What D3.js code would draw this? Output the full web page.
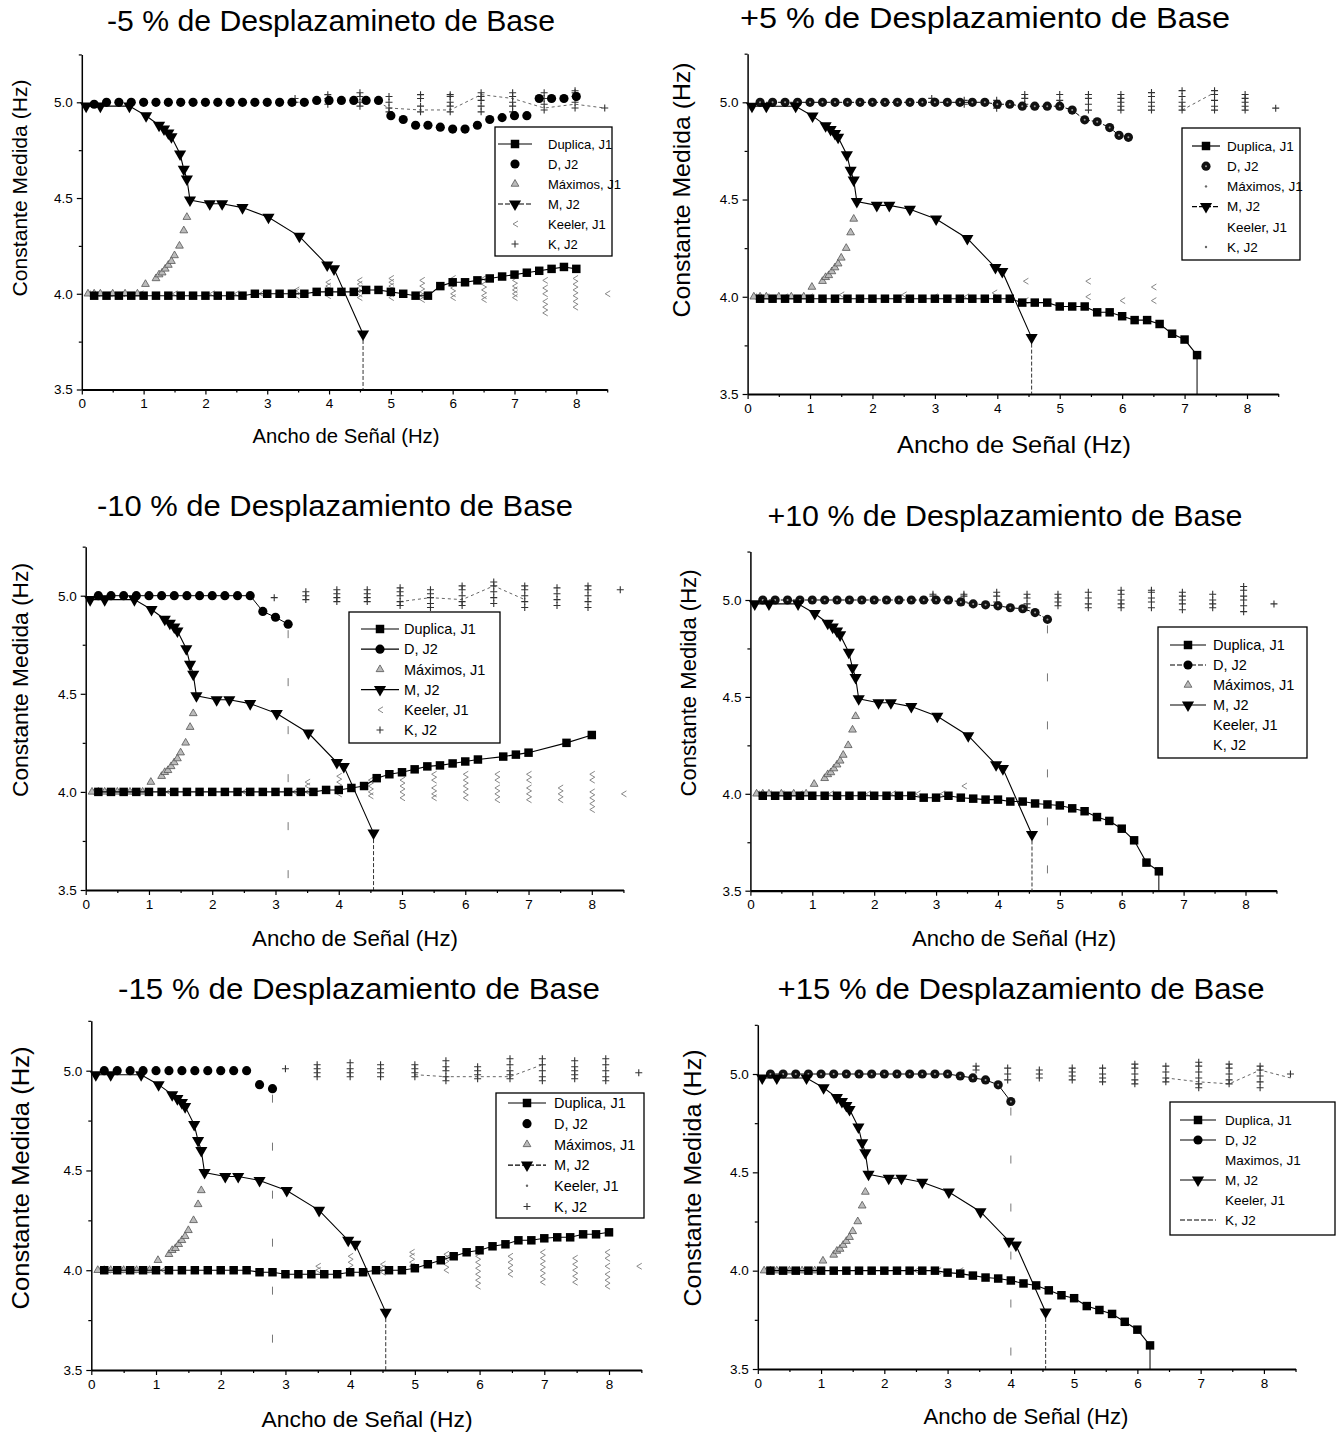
<!DOCTYPE html>
<html><head><meta charset="utf-8">
<script src="https://cdn.jsdelivr.net/npm/d3@7/dist/d3.min.js"></script>
<style>
body{margin:0;background:#fff}
svg{display:block}
text{font-family:"Liberation Sans",Arial,Helvetica,sans-serif;fill:#000}
</style></head><body>
<svg id="chart" width="1341" height="1433"></svg>
<script>
// ---------------- DATA ----------------
const titles = ["-5 % de Desplazamineto de Base","+5 % de Desplazamiento de Base",
  "-10 % de Desplazamiento de Base","+10 % de Desplazamiento de Base",
  "-15 % de Desplazamiento de Base","+15 % de Desplazamiento de Base"];
const xLabel = "Ancho de Señal (Hz)";
const yLabel = "Constante Medida (Hz)";
const xTicks = [0,1,2,3,4,5,6,7,8];
const xMinor = [0.5,1.5,2.5,3.5,4.5,5.5,6.5,7.5,8.5];
const yTicks = [3.5,4.0,4.5,5.0];
const yMinor = [3.75,4.25,4.75,5.25];
const legendLabels = ["Duplica, J1","D, J2","Máximos, J1","M, J2","Keeler, J1","K, J2"];
const legendLabels6 = ["Duplica, J1","D, J2","Maximos, J1","M, J2","Keeler, J1","K, J2"];

// M, J2 (same in every panel)
const mX = [0.07,0.3,0.77,1.04,1.25,1.33,1.4,1.45,1.59,1.65,1.7,1.75,2.07,2.27,2.6,3.02,3.52,3.97,4.08,4.55];
const mY = [4.98,4.98,4.98,4.93,4.88,4.86,4.84,4.82,4.73,4.65,4.6,4.49,4.47,4.47,4.45,4.40,4.30,4.15,4.13,3.79];
// Máximos, J1 (same in every panel)
const maxX = [0.1,0.2,0.3,0.5,0.7,0.9,1.03,1.2,1.25,1.3,1.35,1.4,1.45,1.5,1.58,1.65,1.7];
const maxY = [4.0,4.0,4.0,4.0,4.0,4.0,4.05,4.08,4.1,4.11,4.13,4.15,4.17,4.2,4.25,4.33,4.4];

// Duplica, J1 per panel
const dup1X = [0.2,0.4,0.6,0.8,1.0,1.2,1.4,1.6,1.8,2.0,2.2,2.4,2.6,2.8,3.0,3.2,3.4,3.6,3.8,4.0,4.2,4.4,4.6,4.8,5.0,5.2,5.4,5.6,5.8,6.0,6.2,6.4,6.6,6.8,7.0,7.2,7.4,7.6,7.8,8.0];
const dup1Y = [3.99,3.99,3.99,3.99,3.99,3.99,3.99,3.99,3.99,3.99,3.99,3.99,3.99,4.0,4.0,4.0,4.0,4.0,4.01,4.01,4.01,4.01,4.02,4.02,4.01,4.0,3.99,3.99,4.04,4.06,4.06,4.07,4.08,4.09,4.1,4.11,4.12,4.13,4.14,4.13];
const dup2X = [0.2,0.4,0.6,0.8,1.0,1.2,1.4,1.6,1.8,2.0,2.2,2.4,2.6,2.8,3.0,3.2,3.4,3.6,3.8,4.0,4.2,4.4,4.6,4.8,5.0,5.2,5.4,5.6,5.8,6.0,6.2,6.4,6.6,6.8,7.0,7.2];
const dup2Y = [3.99,3.99,3.99,3.99,3.99,3.99,3.99,3.99,3.99,3.99,3.99,3.99,3.99,3.99,3.99,3.99,3.99,3.99,3.99,3.99,3.99,3.97,3.97,3.97,3.95,3.95,3.95,3.92,3.92,3.90,3.88,3.88,3.86,3.81,3.78,3.70];
const dup3X = [0.2,0.4,0.6,0.8,1.0,1.2,1.4,1.6,1.8,2.0,2.2,2.4,2.6,2.8,3.0,3.2,3.4,3.6,3.8,4.0,4.2,4.4,4.6,4.8,5.0,5.2,5.4,5.6,5.8,6.0,6.2,6.6,6.8,7.0,7.6,8.0];
const dup3Y = [4.0,4.0,4.0,4.0,4.0,4.0,4.0,4.0,4.0,4.0,4.0,4.0,4.0,4.0,4.0,4.0,4.0,4.0,4.01,4.01,4.02,4.03,4.07,4.09,4.1,4.115,4.13,4.135,4.145,4.155,4.165,4.18,4.19,4.2,4.25,4.29];
const dup4X = [0.2,0.4,0.6,0.8,1.0,1.2,1.4,1.6,1.8,2.0,2.2,2.4,2.6,2.8,3.0,3.2,3.4,3.6,3.8,4.0,4.2,4.4,4.6,4.8,5.0,5.2,5.4,5.6,5.8,6.0,6.2,6.4,6.6];
const dup4Y = [3.99,3.99,3.99,3.99,3.99,3.99,3.99,3.99,3.99,3.99,3.99,3.99,3.99,3.98,3.98,3.99,3.98,3.975,3.97,3.97,3.96,3.96,3.95,3.945,3.94,3.925,3.91,3.88,3.86,3.82,3.76,3.645,3.60];
const dup5X = [0.2,0.4,0.6,0.8,1.0,1.2,1.4,1.6,1.8,2.0,2.2,2.4,2.6,2.8,3.0,3.2,3.4,3.6,3.8,4.0,4.2,4.4,4.6,4.8,5.0,5.2,5.4,5.6,5.8,6.0,6.2,6.4,6.6,6.8,7.0,7.2,7.4,7.6,7.8,8.0];
const dup5Y = [4.0,4.0,4.0,4.0,4.0,4.0,4.0,4.0,4.0,4.0,4.0,4.0,3.99,3.99,3.98,3.98,3.98,3.98,3.98,3.99,3.99,4.0,4.0,4.0,4.01,4.03,4.05,4.07,4.09,4.1,4.12,4.13,4.15,4.15,4.16,4.165,4.165,4.18,4.18,4.19];
const dup6X = [0.2,0.4,0.6,0.8,1.0,1.2,1.4,1.6,1.8,2.0,2.2,2.4,2.6,2.8,3.0,3.2,3.4,3.6,3.8,4.0,4.2,4.4,4.6,4.8,5.0,5.2,5.4,5.6,5.8,6.0,6.2];
const dup6Y = [4.0,4.0,4.0,4.0,4.0,4.0,4.0,4.0,4.0,4.0,4.0,4.0,4.0,4.0,3.99,3.985,3.975,3.965,3.96,3.95,3.935,3.925,3.90,3.875,3.86,3.82,3.80,3.78,3.74,3.70,3.62];

// D, J2 per panel
const d1X = [0.2,0.4,0.6,0.8,1.0,1.2,1.4,1.6,1.8,2.0,2.2,2.4,2.6,2.8,3.0,3.2,3.4,3.6,3.8,4.0,4.2,4.4,4.6,4.8,5.0,5.2,5.4,5.6,5.8,6.0,6.2,6.4,6.6,6.8,7.0,7.2,7.4,7.6,7.8,8.0];
const d1Y = [4.99,5.0,5.0,5.0,5.0,5.0,5.0,5.0,5.0,5.0,5.0,5.0,5.0,5.0,5.0,5.0,5.0,5.0,5.01,5.01,5.01,5.01,5.01,5.01,4.93,4.91,4.88,4.88,4.87,4.86,4.86,4.88,4.91,4.92,4.93,4.93,5.02,5.02,5.02,5.03];
const d2X = [0.2,0.4,0.6,0.8,1.0,1.2,1.4,1.6,1.8,2.0,2.2,2.4,2.6,2.8,3.0,3.2,3.4,3.6,3.8,4.0,4.2,4.4,4.6,4.8,5.0,5.2,5.4,5.6,5.8,5.95,6.1];
const d2Y = [5.0,5.0,5.0,5.0,5.0,5.0,5.0,5.0,5.0,5.0,5.0,5.0,5.0,5.0,5.0,5.0,5.0,5.0,5.0,4.99,4.99,4.98,4.98,4.98,4.98,4.96,4.91,4.90,4.87,4.83,4.82];
const d3X = [0.2,0.4,0.6,0.8,1.0,1.2,1.4,1.6,1.8,2.0,2.2,2.4,2.6,2.8,3.0,3.2];
const d3Y = [5.0,5.0,5.0,5.0,5.0,5.0,5.0,5.0,5.0,5.0,5.0,5.0,5.0,4.92,4.89,4.855];
const d4X = [0.2,0.4,0.6,0.8,1.0,1.2,1.4,1.6,1.8,2.0,2.2,2.4,2.6,2.8,3.0,3.2,3.4,3.6,3.8,4.0,4.2,4.4,4.6,4.8];
const d4Y = [5.0,5.0,5.0,5.0,5.0,5.0,5.0,5.0,5.0,5.0,5.0,5.0,5.0,5.0,5.0,5.0,4.99,4.98,4.975,4.97,4.96,4.955,4.935,4.90];
const d5X = [0.2,0.4,0.6,0.8,1.0,1.2,1.4,1.6,1.8,2.0,2.2,2.4,2.6,2.8];
const d5Y = [5.0,5.0,5.0,5.0,5.0,5.0,5.0,5.0,5.0,5.0,5.0,5.0,4.93,4.91];
const d6X = [0.2,0.4,0.6,0.8,1.0,1.2,1.4,1.6,1.8,2.0,2.2,2.4,2.6,2.8,3.0,3.2,3.4,3.6,3.8,4.0];
const d6Y = [5.0,5.0,5.0,5.0,5.0,5.0,5.0,5.0,5.0,5.0,5.0,5.0,5.0,5.0,5.0,4.99,4.98,4.97,4.945,4.86];

// K, J2 columns [x, [y...]] per panel
const k1 = [[3.45,[5.0,5.02]],[3.98,[4.99,5.02,5.04]],[4.5,[4.98,5.0,5.03,5.05]],[4.97,[4.95,4.97,5.0,5.03]],[5.48,[4.95,4.98,5.02,5.04]],[5.96,[4.95,4.98,5.0,5.03,5.04]],[6.46,[4.95,4.98,5.01,5.03,5.05]],[6.97,[4.95,4.98,5.0,5.03,5.05]],[7.48,[4.96,4.99,5.02,5.05]],[7.98,[4.97,5.0,5.03,5.05,5.06]],[8.46,[4.97]]];
const k2 = [[2.95,[5.02]],[3.47,[4.99,5.01]],[3.99,[4.97,4.99,5.01]],[4.44,[4.99,5.02,5.04]],[5.0,[4.99,5.01,5.04]],[5.46,[4.96,4.99,5.02,5.04]],[5.98,[4.96,4.98,5.0,5.02,5.04]],[6.47,[4.96,4.98,5.0,5.03,5.05]],[6.96,[4.96,4.98,5.0,5.03,5.06]],[7.48,[4.96,4.98,5.01,5.04,5.06]],[7.97,[4.96,4.98,5.0,5.02,5.04]],[8.46,[4.97]]];
const k3 = [[2.98,[4.99]],[3.48,[4.98,5.0,5.02]],[3.97,[4.97,4.99,5.01,5.03]],[4.45,[4.97,4.99,5.01,5.03]],[4.97,[4.95,4.97,5.0,5.02,5.04]],[5.45,[4.94,4.96,4.99,5.01,5.03]],[5.95,[4.95,4.97,5.0,5.03,5.05]],[6.45,[4.96,4.99,5.02,5.05,5.07]],[6.94,[4.94,4.97,5.0,5.03,5.05]],[7.45,[4.95,4.98,5.01,5.04]],[7.94,[4.94,4.97,5.0,5.03,5.05]],[8.45,[5.03]]];
const k4 = [[2.95,[5.02,5.03]],[3.45,[4.99,5.02,5.03]],[3.98,[4.97,4.99,5.02,5.04]],[4.47,[4.96,4.98,5.01,5.03]],[4.97,[4.97,4.99,5.01,5.03]],[5.46,[4.96,4.98,5.01,5.04]],[5.99,[4.96,4.98,5.0,5.03,5.05]],[6.48,[4.96,4.99,5.01,5.04,5.05]],[6.98,[4.95,4.98,5.0,5.02,5.04]],[7.47,[4.96,4.98,5.0,5.03]],[7.97,[4.94,4.97,5.0,5.02,5.05,5.07]],[8.46,[4.98]]];
const k5 = [[3.0,[5.01]],[3.49,[4.97,4.99,5.01,5.03]],[4.0,[4.97,4.99,5.01,5.04]],[4.47,[4.97,4.99,5.01,5.03]],[5.0,[4.97,4.99,5.01,5.03]],[5.48,[4.95,4.97,5.0,5.02,5.05]],[5.97,[4.96,4.98,5.0,5.02]],[6.47,[4.96,4.98,5.0,5.03,5.06]],[6.97,[4.95,4.97,5.0,5.03,5.06]],[7.47,[4.96,4.98,5.0,5.02,5.05]],[7.95,[4.95,4.97,5.0,5.03,5.06]],[8.46,[4.99]]];
const k6 = [[3.45,[5.02,5.04]],[3.95,[4.97,5.0,5.03]],[4.45,[4.98,5.0,5.02]],[4.97,[4.97,4.99,5.01,5.03]],[5.45,[4.96,4.98,5.0,5.03]],[5.96,[4.95,4.97,5.0,5.03,5.05]],[6.45,[4.96,4.98,5.01,5.04]],[6.97,[4.93,4.95,4.98,5.01,5.04,5.06]],[7.45,[4.95,4.97,5.0,5.03,5.05]],[7.94,[4.93,4.96,4.99,5.02,5.04]],[8.42,[5.0]]];
// K, J2 dashed connecting line per panel
const kLine1X = [4.8,4.97,5.48,5.96,6.46,6.97,7.48,7.98,8.46];
const kLine1Y = [5.0,4.97,4.96,4.96,5.04,5.02,4.97,4.99,4.97];
const kLine2X = [6.96,7.48];
const kLine2Y = [4.96,5.05];
const kLine3X = [4.97,5.45,5.95,6.45,6.94];
const kLine3Y = [4.97,4.99,4.98,5.05,4.98];
const kLine4X = [];
const kLine4Y = [];
const kLine5X = [5.0,5.48,6.47,6.97];
const kLine5Y = [4.98,4.97,4.97,5.03];
const kLine6X = [6.45,6.97,7.45,7.94,8.42];
const kLine6Y = [4.98,4.96,4.95,5.02,4.98];

// Keeler, J1 columns [x, [y...]] per panel
const kee1 = [[0.1,[4.0]],[0.25,[4.0]],[0.45,[4.0]],[0.65,[4.0]],[0.95,[4.0]],[1.5,[4.0]],[2.1,[4.0]],[2.5,[4.0]],[2.9,[4.0]],[3.2,[4.0]],[3.47,[3.99,4.01,4.02]],[3.98,[3.99,4.02,4.04,4.06]],[4.49,[3.98,4.0,4.03,4.05,4.07]],[5.0,[3.98,4.0,4.02,4.04,4.06,4.08]],[5.5,[3.97,3.99,4.01,4.04,4.07]],[6.0,[3.98,4.0,4.03,4.06,4.08]],[6.5,[3.97,3.99,4.02,4.05,4.08]],[7.0,[3.98,4.0,4.02,4.04,4.07]],[7.49,[3.9,3.93,3.96,4.0,4.03,4.07]],[7.98,[3.93,3.96,3.99,4.02,4.05,4.08]],[8.5,[4.0]]];
const kee2 = [[0.1,[4.0]],[0.3,[4.0]],[0.6,[4.0]],[1.0,[4.0]],[1.5,[4.01]],[2.5,[4.01]],[3.0,[4.0]],[3.5,[4.0]],[3.95,[3.99,4.02]],[4.45,[3.98,4.08]],[5.45,[4.0,4.08]],[6.0,[3.98]],[6.5,[3.98,4.05]]];
const kee3 = [[0.1,[4.0]],[0.3,[4.0]],[0.5,[4.0]],[0.7,[4.0]],[1.0,[4.0]],[1.3,[4.0]],[2.0,[4.0]],[2.5,[4.0]],[3.0,[4.0]],[3.3,[4.0]],[3.5,[4.0,4.03,4.05]],[4.0,[3.99,4.02,4.05,4.08]],[4.5,[3.98,4.0,4.03,4.06]],[5.0,[3.97,4.0,4.03,4.06]],[5.5,[3.97,3.99,4.02,4.06,4.09]],[6.0,[3.97,4.0,4.03,4.06,4.09]],[6.5,[3.96,3.99,4.02,4.06,4.09]],[7.0,[3.96,3.99,4.02,4.06,4.09]],[7.5,[3.96,3.99,4.02]],[8.0,[3.91,3.94,3.97,4.0,4.06,4.09]],[8.5,[3.99]]];
const kee4 = [[0.1,[4.0]],[0.3,[4.0]],[0.5,[4.0]],[0.8,[4.0]],[1.3,[4.0]],[1.9,[4.0]],[2.3,[4.0]],[2.7,[4.0]],[3.1,[4.0]],[3.45,[4.04]]];
const kee5 = [[0.1,[4.0]],[0.25,[4.0]],[0.45,[4.0]],[0.65,[4.0]],[0.85,[4.0]],[1.1,[4.0]],[3.0,[3.98]],[3.5,[4.0,4.02]],[4.0,[3.99,4.01,4.04,4.07]],[4.5,[3.99,4.01,4.03]],[4.95,[4.02,4.04,4.07,4.09]],[5.48,[4.0,4.03,4.06,4.08]],[5.97,[3.92,3.95,3.98,4.01,4.04,4.07]],[6.47,[3.98,4.01,4.04,4.07]],[6.97,[3.94,3.97,4.0,4.03,4.06,4.09]],[7.47,[3.94,3.97,4.0,4.03,4.06]],[7.97,[3.92,3.95,3.98,4.02,4.06,4.09]],[8.46,[4.02]]];
const kee6 = [[0.1,[4.0]],[0.3,[4.0]],[0.5,[4.0]],[0.7,[4.0]],[0.95,[4.0]],[1.4,[4.0]],[2.0,[4.0]],[2.5,[4.0]],[2.85,[4.0]],[3.2,[4.0]]];

// ---------------- LAYOUT / STYLE ----------------
const layout = [
 {x0:81.8,x8:576.3,y50:102.3,y35:389.5, title:[331,31,448,29], xl:[346,443,187,20], yl:[20,188,217,20],
  leg:{x:495,y:127,w:117,h:129,sx:515,hl:17,tx:548,r0:144,dr:20,fs:13},
  dLine:null, dupDrop:false, dDrop:false,
  legSty:[["solid","sq"],[null,"ci"],[null,"ut"],["dash","dt"],[null,"lt"],[null,"pl"]]},
 {x0:747.6,x8:1247,y50:102.3,y35:394, title:[985,28,490,29], xl:[1014,453,234,24], yl:[681,190,255,24],
  leg:{x:1182,y:128,w:118,h:132,sx:1206,hl:14,tx:1227,r0:146,dr:20.2,fs:13.5},
  dLine:"dash", dupDrop:true, dDrop:false, dDot:true,
  legSty:[["solid","sq"],[null,"cid"],[null,"dot"],["dash","dt"],[null,null],[null,"dot"]]},
 {x0:85.7,x8:591.8,y50:595.7,y35:890, title:[335,516,476,29], xl:[355,946,206,22], yl:[20,680,234,22],
  leg:{x:349,y:612,w:151,h:131,sx:380,hl:19,tx:404,r0:629,dr:20.2,fs:14.5},
  dLine:"solid", dupDrop:false, dDrop:true,
  legSty:[["solid","sq"],["solid","ci"],[null,"ut"],["solid","dt"],[null,"lt"],[null,"pl"]]},
 {x0:750.4,x8:1245.5,y50:600,y35:890.7, title:[1005,526,475,29], xl:[1014,946,204,22], yl:[688,683,227,22],
  leg:{x:1158,y:627,w:149,h:131,sx:1188,hl:18,tx:1213,r0:645,dr:20,fs:14.5},
  dLine:"dash", dupDrop:true, dDrop:true, dDot:true,
  legSty:[["solid","sq"],["dash","ci"],[null,"ut"],["solid","dt"],[null,null],[null,null]]},
 {x0:91.3,x8:609,y50:1070.7,y35:1370, title:[359,999,482,29], xl:[367,1427,211,22], yl:[21,1178,263,23],
  leg:{x:496,y:1093,w:148,h:125,sx:527,hl:19,tx:554,r0:1103,dr:20.7,fs:14.5},
  dLine:null, dupDrop:false, dDrop:true,
  legSty:[["solid","sq"],[null,"ci"],[null,"ut"],["dash","dt"],[null,"dot"],[null,"pl"]]},
 {x0:757.8,x8:1263.9,y50:1074,y35:1369, title:[1021,999,487,29], xl:[1026,1424,205,22], yl:[693,1178,257,23],
  leg:{x:1170,y:1102,w:165,h:133,sx:1198,hl:18,tx:1225,r0:1120,dr:20,fs:13.5},
  dLine:"solid", dupDrop:true, dDrop:true, dDot:true,
  legSty:[["solid","sq"],["solid","ci"],[null,null],["solid","dt"],[null,null],["dash",null]]}
];

const panelData = [
 {dupX:dup1X,dupY:dup1Y,dX:d1X,dY:d1Y,k:k1,kLX:kLine1X,kLY:kLine1Y,kee:kee1,labels:legendLabels},
 {dupX:dup2X,dupY:dup2Y,dX:d2X,dY:d2Y,k:k2,kLX:kLine2X,kLY:kLine2Y,kee:kee2,labels:legendLabels},
 {dupX:dup3X,dupY:dup3Y,dX:d3X,dY:d3Y,k:k3,kLX:kLine3X,kLY:kLine3Y,kee:kee3,labels:legendLabels},
 {dupX:dup4X,dupY:dup4Y,dX:d4X,dY:d4Y,k:k4,kLX:kLine4X,kLY:kLine4Y,kee:kee4,labels:legendLabels},
 {dupX:dup5X,dupY:dup5Y,dX:d5X,dY:d5Y,k:k5,kLX:kLine5X,kLY:kLine5Y,kee:kee5,labels:legendLabels},
 {dupX:dup6X,dupY:dup6Y,dX:d6X,dY:d6Y,k:k6,kLX:kLine6X,kLY:kLine6Y,kee:kee6,labels:legendLabels6}
];

// ---------------- DRAW ----------------
const svg = d3.select("#chart");
const zip = (xs, ys) => xs.map((v,i)=>({x:v,y:ys[i]}));
const sym = {
  sq: d3.symbol().type(d3.symbolSquare).size(72)(),
  ci: d3.symbol().type(d3.symbolCircle).size(66)(),
  dt: d3.symbol().type(d3.symbolTriangle).size(64)(),
  ut: d3.symbol().type(d3.symbolTriangle).size(26)()
};

function drawMarker(g, type, cx, cy){
  if(!type) return;
  if(type==="sq") g.append("path").attr("d",sym.sq).attr("transform",`translate(${cx},${cy})`).attr("fill","#000");
  else if(type==="ci") g.append("path").attr("d",sym.ci).attr("transform",`translate(${cx},${cy})`).attr("fill","#000");
  else if(type==="cid"){ g.append("path").attr("d",sym.ci).attr("transform",`translate(${cx},${cy})`).attr("fill","#111");
    g.append("circle").attr("cx",cx).attr("cy",cy).attr("r",1.0).attr("fill","#999"); }
  else if(type==="dt") g.append("path").attr("d",sym.dt).attr("transform",`translate(${cx},${cy}) rotate(180)`).attr("fill","#000");
  else if(type==="ut") g.append("path").attr("d",sym.ut).attr("transform",`translate(${cx},${cy})`).attr("fill","#bbb").attr("stroke","#555").attr("stroke-width",0.8);
  else if(type==="lt") g.append("path").attr("d",`M${cx+3},${cy-3}L${cx-2},${cy}L${cx+3},${cy+3}`).attr("fill","none").attr("stroke","#888").attr("stroke-width",1);
  else if(type==="pl") g.append("path").attr("d",`M${cx-3.5},${cy}H${cx+3.5}M${cx},${cy-3.5}V${cy+3.5}`).attr("stroke","#333").attr("stroke-width",1.1);
  else if(type==="dot") g.append("circle").attr("cx",cx).attr("cy",cy).attr("r",1.2).attr("fill","#666");
}

layout.forEach((L, i) => {
  const D = panelData[i];
  const unit = (L.x8 - L.x0)/8;
  const yUnit = (L.y35 - L.y50)/1.5;
  const x = d3.scaleLinear().domain([0,8.5]).range([L.x0, L.x0 + 8.5*unit]);
  const y = d3.scaleLinear().domain([3.5,5.25]).range([L.y35, L.y50 - 0.25*yUnit]);
  const g = svg.append("g");

  // title and axis labels
  g.append("text").attr("x",L.title[0]).attr("y",L.title[1]).attr("text-anchor","middle")
    .attr("font-size",L.title[3]).attr("textLength",L.title[2]).attr("lengthAdjust","spacingAndGlyphs").text(titles[i]);
  g.append("text").attr("x",L.xl[0]).attr("y",L.xl[1]).attr("text-anchor","middle")
    .attr("font-size",L.xl[3]).attr("textLength",L.xl[2]).attr("lengthAdjust","spacingAndGlyphs").text(xLabel);
  g.append("text").attr("transform",`translate(${L.yl[0]+L.yl[3]*0.36},${L.yl[1]}) rotate(-90)`).attr("text-anchor","middle")
    .attr("font-size",L.yl[3]).attr("textLength",L.yl[2]).attr("lengthAdjust","spacingAndGlyphs").text(yLabel);

  // axes
  const xa = g.append("g").attr("transform",`translate(0,${L.y35})`)
    .call(d3.axisBottom(x).tickValues(xTicks).tickSize(5).tickSizeOuter(0).tickPadding(4).tickFormat(d3.format("d")));
  const xm = g.append("g").attr("transform",`translate(0,${L.y35})`)
    .call(d3.axisBottom(x).tickValues(xMinor).tickSize(3).tickSizeOuter(0).tickFormat(""));
  xm.select(".domain").remove();
  xa.select(".domain").attr("stroke-width",2.2);
  const ya = g.append("g").attr("transform",`translate(${L.x0},0)`)
    .call(d3.axisLeft(y).tickValues(yTicks).tickSize(5).tickSizeOuter(0).tickPadding(4).tickFormat(d3.format(".1f")));
  const ym = g.append("g").attr("transform",`translate(${L.x0},0)`)
    .call(d3.axisLeft(y).tickValues(yMinor).tickSize(3).tickSizeOuter(0).tickFormat(""));
  ym.select(".domain").remove();
  ya.select(".domain").attr("stroke-width",1.5);
  [xa,ya].forEach(a => a.selectAll("text").attr("font-size",13.5).attr("font-family","'Liberation Sans',Arial,sans-serif"));
  g.selectAll(".tick line").attr("stroke-width",1.2);

  const line = d3.line().x(d=>x(d.x)).y(d=>y(d.y));

  // Keeler, J1
  D.kee.forEach(c => c[1].forEach(v => drawMarker(g,"lt",x(c[0]),y(v))));
  // K, J2
  if(D.kLX.length) g.append("path").attr("d",line(zip(D.kLX,D.kLY))).attr("fill","none")
     .attr("stroke","#555").attr("stroke-width",0.9).attr("stroke-dasharray","3,3");
  D.k.forEach(c => c[1].forEach(v => drawMarker(g,"pl",x(c[0]),y(v))));

  // Máximos, J1
  const maxPts = zip(maxX,maxY);
  maxPts.forEach(p => drawMarker(g,"ut",x(p.x),y(p.y)));

  // Duplica, J1
  const dupPts = zip(D.dupX,D.dupY);
  g.append("path").attr("d",line(dupPts)).attr("fill","none").attr("stroke","#000").attr("stroke-width",1.1);
  if(L.dupDrop){ const last = dupPts[dupPts.length-1];
    g.append("line").attr("x1",x(last.x)).attr("x2",x(last.x)).attr("y1",y(last.y)).attr("y2",y(3.5)).attr("stroke","#000").attr("stroke-width",1); }
  g.selectAll(null).data(dupPts).join("path").attr("d",sym.sq)
    .attr("transform",d=>`translate(${x(d.x)},${y(d.y)})`).attr("fill","#000");

  // D, J2
  const dPts = zip(D.dX,D.dY);
  if(L.dLine) g.append("path").attr("d",line(dPts)).attr("fill","none").attr("stroke","#000").attr("stroke-width",1)
     .attr("stroke-dasharray",L.dLine==="dash"?"4,2":null);
  if(L.dDrop){ const last = dPts[dPts.length-1];
    g.append("line").attr("x1",x(last.x)).attr("x2",x(last.x)).attr("y1",y(last.y)+6).attr("y2",y(3.5)).attr("stroke","#777").attr("stroke-width",1).attr("stroke-dasharray","8,40"); }
  dPts.forEach(p => drawMarker(g, L.dDot ? "cid" : "ci", x(p.x), y(p.y)));

  // M, J2
  const mPts = zip(mX,mY);
  g.append("path").attr("d",line(mPts)).attr("fill","none").attr("stroke","#000").attr("stroke-width",1.1);
  const mLast = mPts[mPts.length-1];
  g.append("line").attr("x1",x(mLast.x)).attr("x2",x(mLast.x)).attr("y1",y(mLast.y)).attr("y2",y(3.5))
    .attr("stroke","#333").attr("stroke-width",1).attr("stroke-dasharray","4,2");
  g.selectAll(null).data(mPts).join("path").attr("d",sym.dt)
    .attr("transform",d=>`translate(${x(d.x)},${y(d.y)}) rotate(180)`).attr("fill","#000");

  // legend
  const lg = svg.append("g");
  lg.append("rect").attr("x",L.leg.x).attr("y",L.leg.y).attr("width",L.leg.w).attr("height",L.leg.h)
    .attr("fill","#fff").attr("stroke","#000").attr("stroke-width",1.3);
  D.labels.forEach((lab, j) => {
    const cy = L.leg.r0 + j*L.leg.dr;
    const st = L.legSty[j];
    if(st[0]) lg.append("line").attr("x1",L.leg.sx-L.leg.hl).attr("x2",L.leg.sx+L.leg.hl).attr("y1",cy).attr("y2",cy)
        .attr("stroke","#000").attr("stroke-width",1.2).attr("stroke-dasharray",st[0]==="dash"?"5,2":null);
    drawMarker(lg, st[1], L.leg.sx, cy);
    lg.append("text").attr("x",L.leg.tx).attr("y",cy+L.leg.fs*0.36).attr("font-size",L.leg.fs).text(lab);
  });
});
</script>
</body></html>
